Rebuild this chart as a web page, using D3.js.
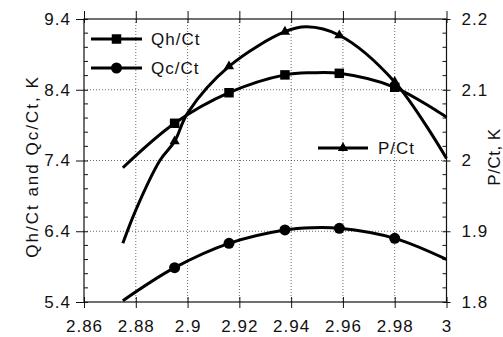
<!DOCTYPE html>
<html><head><meta charset="utf-8">
<script src="https://cdn.jsdelivr.net/npm/d3@7"></script>
<style>
body{margin:0;background:#fff;}
svg text{font-family:"Liberation Sans",Arial,Helvetica,sans-serif;fill:#111;}
</style></head>
<body><svg id="c" width="503" height="337"></svg>
<script>
// ---- data ----
const xTicks = [2.86, 2.88, 2.9, 2.92, 2.94, 2.96, 2.98, 3];
const xTickLabels = ["2.86", "2.88", "2.9", "2.92", "2.94", "2.96", "2.98", "3"];
const yLeftTicks = [5.4, 6.4, 7.4, 8.4, 9.4];
const yRightTicks = [1.8, 1.9, 2, 2.1, 2.2];
const yRightTickLabels = ["1.8", "1.9", "2", "2.1", "2.2"];

const markerX = [2.895, 2.916, 2.9376, 2.9586, 2.98];
const qhMarkers = [7.926, 8.358, 8.61, 8.632, 8.435];
const qcMarkers = [5.885, 6.229, 6.418, 6.442, 6.30];
const pMarkers = [2.027, 2.133, 2.182, 2.177, 2.111];

const qhCurveX = [2.875, 2.895, 2.916, 2.9376, 2.948, 2.9586, 2.98, 3];
const qhCurveY = [7.298, 7.926, 8.358, 8.61, 8.64, 8.632, 8.435, 8.01];
const qcCurveX = [2.875, 2.895, 2.916, 2.9376, 2.948, 2.9586, 2.98, 3];
const qcCurveY = [5.418, 5.885, 6.229, 6.418, 6.45, 6.442, 6.30, 6.003];
const pCurveX = [2.875, 2.88, 2.8893, 2.895, 2.9, 2.916, 2.9376, 2.946, 2.9586, 2.98, 3];
const pCurveY = [1.883, 1.930, 2.0, 2.027, 2.067, 2.133, 2.182, 2.189, 2.177, 2.111, 2.003];

const seriesNames = ["Qh/Ct", "Qc/Ct", "P/Ct"];

// ---- layout ----
const svg = d3.select("#c");
const L = 84, R = 446.5, T = 19, B = 302;
const x = d3.scaleLinear().domain([2.86, 3]).range([L, R]);
const yL = d3.scaleLinear().domain([5.4, 9.4]).range([B, T]);
const yR = d3.scaleLinear().domain([1.8, 2.2]).range([B, T]);
const fs = 17;

// grid
const g = svg.append("g");
xTicks.slice(1, -1).forEach(t => {
  g.append("line").attr("x1", x(t)).attr("x2", x(t)).attr("y1", T).attr("y2", B)
    .attr("stroke", "#444").attr("stroke-width", 0.8).attr("stroke-dasharray", "1,2");
});
yLeftTicks.slice(1, -1).forEach(t => {
  g.append("line").attr("x1", L).attr("x2", R).attr("y1", yL(t)).attr("y2", yL(t))
    .attr("stroke", "#444").attr("stroke-width", 0.8).attr("stroke-dasharray", "1,2");
});

// axes
const axB = d3.axisBottom(x).tickValues(xTicks).tickFormat((d, i) => xTickLabels[i]).tickSize(6).tickPadding(12);
const gb = svg.append("g").attr("transform", `translate(0,${B})`).call(axB);
const axT = d3.axisTop(x).tickValues(xTicks).tickFormat("").tickSize(8);
const gt = svg.append("g").attr("transform", `translate(0,${T})`).call(axT);
const axL = d3.axisLeft(yL).tickValues(yLeftTicks).tickFormat(d3.format(".1f")).tickSize(8).tickPadding(5);
const gl = svg.append("g").attr("transform", `translate(${L},0)`).call(axL);
const axR = d3.axisRight(yR).tickValues(yRightTicks).tickFormat((d, i) => yRightTickLabels[i]).tickSize(4).tickPadding(11);
const gr = svg.append("g").attr("transform", `translate(${R},0)`).call(axR);
[gb, gt, gl, gr].forEach(a => {
  a.selectAll(".domain").remove();
  a.selectAll("line").attr("stroke", "#111");
  a.selectAll("text").style("font-size", fs + "px").style("letter-spacing", "1px")
    .attr("fill", "#111").style("font-family", '"Liberation Sans",Arial,sans-serif');
});
// inward parts of major ticks
gb.selectAll(".tick line").attr("y1", -5);
gt.selectAll(".tick line").attr("y1", 4);
gl.selectAll(".tick line").attr("x1", 4);
gr.selectAll(".tick line").attr("x1", -4);

// minor ticks (inward)
const minorL = d3.range(5.6, 9.4, 0.2).filter(v => Math.abs((v - 5.4) % 1) > 0.05 && Math.abs((v - 5.4) % 1 - 1) > 0.05);
const minorR = d3.range(1.82, 2.2, 0.02).filter(v => Math.abs(((v - 1.8) * 10) % 1) > 0.05 && Math.abs(((v - 1.8) * 10) % 1 - 1) > 0.05);
svg.append("g").selectAll("line").data(minorL).join("line")
  .attr("x1", L).attr("x2", L + 4).attr("y1", d => yL(d)).attr("y2", d => yL(d)).attr("stroke", "#111");
svg.append("g").selectAll("line").data(minorR).join("line")
  .attr("x1", R - 4).attr("x2", R).attr("y1", d => yR(d)).attr("y2", d => yR(d)).attr("stroke", "#111");

// frame
svg.append("rect").attr("x", L).attr("y", T).attr("width", R - L).attr("height", B - T)
  .attr("fill", "none").attr("stroke", "#111").attr("stroke-width", 1.2);

// curves
const line = d3.line().curve(d3.curveCatmullRom.alpha(0.5));
function drawCurve(xs, ys, yScale) {
  svg.append("path").attr("d", line(xs.map((v, i) => [x(v), yScale(ys[i])])))
    .attr("fill", "none").attr("stroke", "#000").attr("stroke-width", 3).attr("stroke-linecap", "butt");
}
drawCurve(qhCurveX, qhCurveY, yL);
drawCurve(qcCurveX, qcCurveY, yL);
drawCurve(pCurveX, pCurveY, yR);

// markers
const sq = d3.symbol().type(d3.symbolSquare).size(90);
const ci = d3.symbol().type(d3.symbolCircle).size(95);
const tr = d3.symbol().type(d3.symbolTriangle).size(45);
function drawMarkers(ys, yScale, sym) {
  svg.append("g").selectAll("path").data(markerX).join("path")
    .attr("d", sym).attr("transform", (d, i) => `translate(${x(d)},${yScale(ys[i])})`).attr("fill", "#000");
}
drawMarkers(qhMarkers, yL, sq);
drawMarkers(qcMarkers, yL, ci);
drawMarkers(pMarkers, yR, tr);

// legend
const leg = [
  {name: seriesNames[0], sym: sq, x1: 91, x2: 142, y: 39, tx: 151},
  {name: seriesNames[1], sym: ci, x1: 91, x2: 142, y: 68, tx: 151},
  {name: seriesNames[2], sym: tr, x1: 318, x2: 368, y: 148, tx: 378}
];
leg.forEach(l => {
  svg.append("line").attr("x1", l.x1).attr("x2", l.x2).attr("y1", l.y).attr("y2", l.y)
    .attr("stroke", "#000").attr("stroke-width", 3);
  svg.append("path").attr("d", l.sym).attr("transform", `translate(${(l.x1 + l.x2) / 2},${l.y})`).attr("fill", "#000");
  svg.append("text").attr("x", l.tx).attr("y", l.y).attr("dy", "0.36em")
    .style("font-size", fs + "px").style("letter-spacing", "1px").text(l.name);
});

// axis titles
svg.append("text").attr("transform", `translate(38,166.5) rotate(-90)`)
  .attr("text-anchor", "middle").style("font-size", fs + "px").style("letter-spacing", "2px")
  .text("Qh/Ct and Qc/Ct, K");
svg.append("text").attr("transform", `translate(500,157) rotate(-90)`)
  .attr("text-anchor", "middle").style("font-size", fs + "px").style("letter-spacing", "0.5px")
  .text("P/Ct, K");
</script></body></html>
